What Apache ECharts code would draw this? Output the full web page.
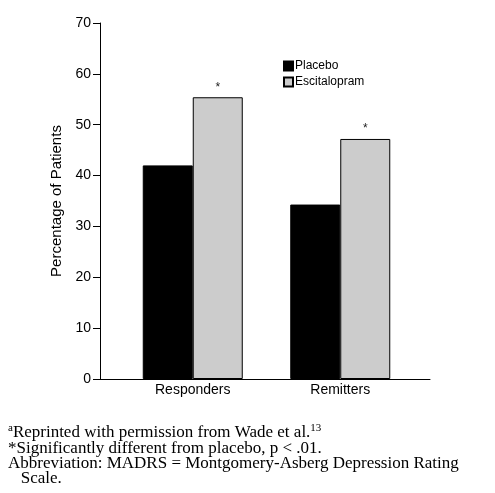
<!DOCTYPE html>
<html>
<head>
<meta charset="utf-8">
<script src="https://cdn.jsdelivr.net/npm/echarts@6/dist/echarts.min.js"></script>
<style>
html,body{margin:0;padding:0;background:#fff;}
#chart{width:495px;height:493px;}
</style>
</head>
<body>
<div id="chart"></div>
<script>
var categories = ['Responders', 'Remitters'];
var placebo = [42, 34.3];
var escitalopram = [55.4, 47.2];
var yTicks = [0, 10, 20, 30, 40, 50, 60, 70];
var yTitle = 'Percentage of Patients';
var footnotes = [
  '{sup|a}{n|Reprinted with permission from Wade et al.}{sup|13}',
  '{n|*Significantly different from placebo, p < .01.}',
  '{n|Abbreviation: MADRS = Montgomery-Asberg Depression Rating}',
  '{n|   Scale.}'
];

var sans = 'Liberation Sans, Arial, sans-serif';
var serif = 'Liberation Serif, Times New Roman, serif';
var chart = echarts.init(document.getElementById('chart'), null, {renderer: 'canvas'});
var gridTop = 23, gridBottom = 493 - 379;
chart.setOption({
  animation: false,
  backgroundColor: '#fff',
  grid: [
    {left: 119, width: 295, top: gridTop, bottom: gridBottom},
    {left: 100, right: 65, top: gridTop, bottom: gridBottom}
  ],
  legend: {
    orient: 'vertical', left: 278, top: 55, itemWidth: 9, itemHeight: 9, itemGap: 4,
    icon: 'rect',
    textStyle: {fontFamily: sans, fontSize: 12, color: '#000', padding: [0, 0, 0, -3]},
    data: ['Placebo', 'Escitalopram']
  },
  xAxis: [
    {type: 'category', gridIndex: 0, data: categories,
     axisLine: {show: false}, axisTick: {show: false},
     axisLabel: {fontFamily: sans, fontSize: 14, color: '#000', margin: 4}},
    {type: 'category', gridIndex: 1, data: [''],
     axisLine: {show: true, lineStyle: {color: '#000', width: 1}},
     axisTick: {show: false}, axisLabel: {show: false}}
  ],
  yAxis: [
    {type: 'value', gridIndex: 0, min: yTicks[0], max: yTicks[yTicks.length - 1], interval: 10, show: false},
    {type: 'value', gridIndex: 1, min: yTicks[0], max: yTicks[yTicks.length - 1], interval: 10,
     name: yTitle, nameLocation: 'middle', nameGap: 35, nameRotate: 90,
     nameTextStyle: {fontFamily: sans, fontSize: 15, color: '#000'},
     axisLine: {show: true, lineStyle: {color: '#000', width: 1}},
     axisTick: {show: true, inside: false, length: 7, lineStyle: {color: '#000'}},
     axisLabel: {fontFamily: sans, fontSize: 14, color: '#000', margin: 9},
     splitLine: {show: false}}
  ],
  series: [
    {name: 'Placebo', type: 'bar', xAxisIndex: 0, yAxisIndex: 0, data: placebo,
     barWidth: 50, barGap: '0%',
     itemStyle: {color: '#000', borderColor: '#000', borderWidth: 1}},
    {name: 'Escitalopram', type: 'bar', xAxisIndex: 0, yAxisIndex: 0, data: escitalopram,
     barWidth: 50, barGap: '0%',
     itemStyle: {color: '#cccccc', borderColor: '#000', borderWidth: 1},
     label: {show: true, position: 'top', distance: 4, formatter: '*',
             fontFamily: sans, fontSize: 12, color: '#222'}}
  ],
  title: {
    text: footnotes.join('\n'),
    left: 3, top: 420,
    textStyle: {
      fontFamily: serif, fontSize: 17, color: '#000', fontWeight: 'normal', lineHeight: 15.4,
      rich: {
        n: {fontFamily: serif, fontSize: 17, color: '#000', lineHeight: 15.4},
        sup: {fontFamily: serif, fontSize: 11, color: '#000', lineHeight: 11, verticalAlign: 'bottom', padding: [0, 0, 7, 0]}
      }
    }
  }
});
</script>
</body>
</html>
